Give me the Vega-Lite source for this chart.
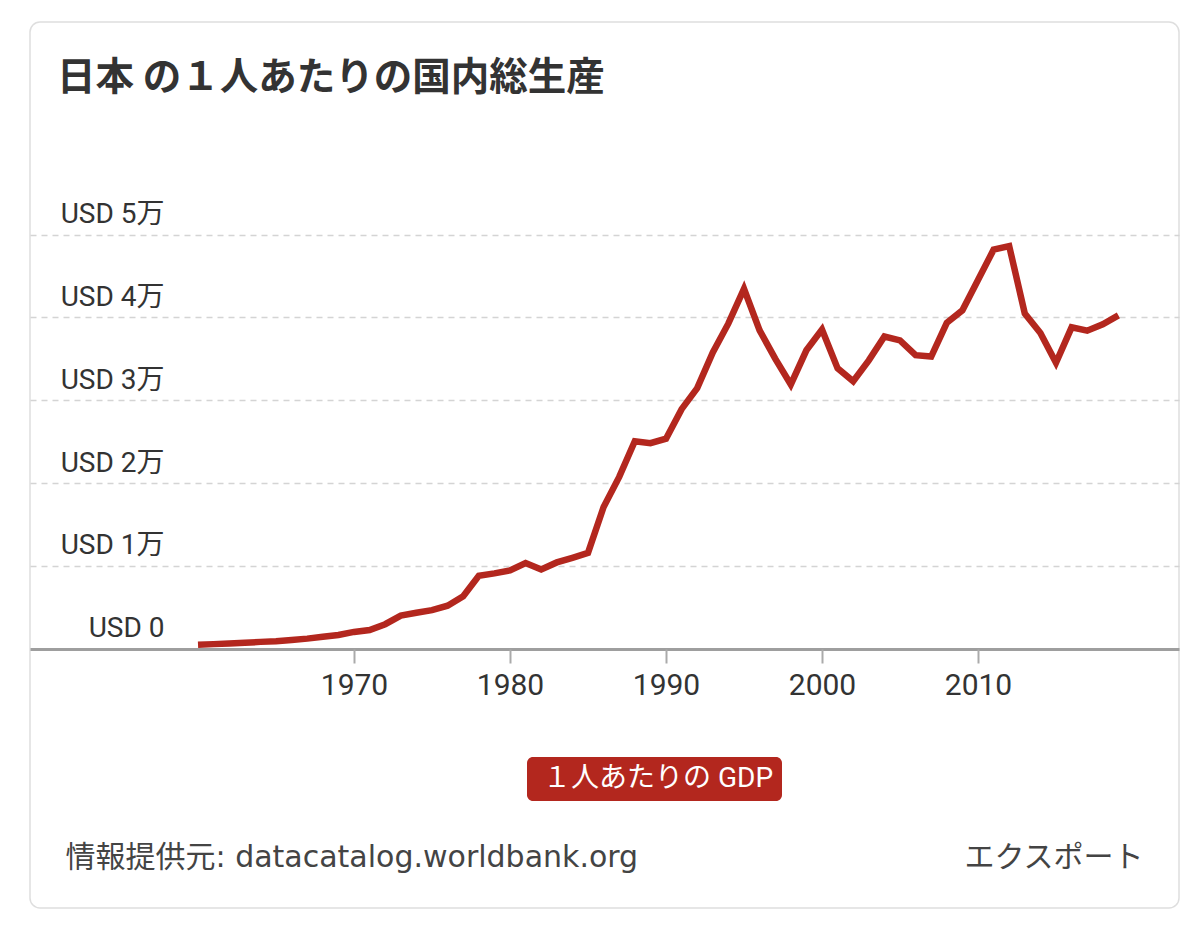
{
  "$schema": "https://vega.github.io/schema/vega-lite/v6.json",
  "width": 1149,
  "height": 886,
  "autosize": {"type": "none"},
  "padding": {"left": 30, "top": 22, "right": 21, "bottom": 36},
  "background": "white",
  "config": {
    "view": {"stroke": "#dedede", "strokeWidth": 1.5, "cornerRadius": 10, "fill": "white"}
  },
  "title": {
    "text": "日本 の１人あたりの国内総生産",
    "font": "Noto Sans CJK JP",
    "fontSize": 38.5,
    "fontWeight": "bold",
    "color": "#333333",
    "anchor": "start",
    "frame": "group",
    "dx": 27,
    "offset": -76
  },
  "data": {
    "values": [
      {"year": 1960, "gdp": 479},
      {"year": 1961, "gdp": 564},
      {"year": 1962, "gdp": 634},
      {"year": 1963, "gdp": 718},
      {"year": 1964, "gdp": 835},
      {"year": 1965, "gdp": 919},
      {"year": 1966, "gdp": 1059},
      {"year": 1967, "gdp": 1229},
      {"year": 1968, "gdp": 1451},
      {"year": 1969, "gdp": 1669},
      {"year": 1970, "gdp": 2038},
      {"year": 1971, "gdp": 2272},
      {"year": 1972, "gdp": 2967},
      {"year": 1973, "gdp": 3997},
      {"year": 1974, "gdp": 4354},
      {"year": 1975, "gdp": 4659},
      {"year": 1976, "gdp": 5197},
      {"year": 1977, "gdp": 6335},
      {"year": 1978, "gdp": 8821},
      {"year": 1979, "gdp": 9105},
      {"year": 1980, "gdp": 9463},
      {"year": 1981, "gdp": 10361},
      {"year": 1982, "gdp": 9578},
      {"year": 1983, "gdp": 10425},
      {"year": 1984, "gdp": 10984},
      {"year": 1985, "gdp": 11585},
      {"year": 1986, "gdp": 17112},
      {"year": 1987, "gdp": 20745},
      {"year": 1988, "gdp": 25052},
      {"year": 1989, "gdp": 24813},
      {"year": 1990, "gdp": 25359},
      {"year": 1991, "gdp": 28925},
      {"year": 1992, "gdp": 31465},
      {"year": 1993, "gdp": 35766},
      {"year": 1994, "gdp": 39269},
      {"year": 1995, "gdp": 43440},
      {"year": 1996, "gdp": 38437},
      {"year": 1997, "gdp": 35022},
      {"year": 1998, "gdp": 31903},
      {"year": 1999, "gdp": 36027},
      {"year": 2000, "gdp": 38532},
      {"year": 2001, "gdp": 33846},
      {"year": 2002, "gdp": 32289},
      {"year": 2003, "gdp": 34808},
      {"year": 2004, "gdp": 37689},
      {"year": 2005, "gdp": 37218},
      {"year": 2006, "gdp": 35434},
      {"year": 2007, "gdp": 35275},
      {"year": 2008, "gdp": 39339},
      {"year": 2009, "gdp": 40855},
      {"year": 2010, "gdp": 44508},
      {"year": 2011, "gdp": 48168},
      {"year": 2012, "gdp": 48603},
      {"year": 2013, "gdp": 40454},
      {"year": 2014, "gdp": 38109},
      {"year": 2015, "gdp": 34524},
      {"year": 2016, "gdp": 38794},
      {"year": 2017, "gdp": 38387},
      {"year": 2018, "gdp": 39159},
      {"year": 2019, "gdp": 40247}
    ]
  },
  "mark": {"type": "line", "strokeWidth": 6.5, "clip": false},
  "encoding": {
    "x": {
      "field": "year",
      "type": "quantitative",
      "scale": {"domain": [1949.23, 2022.885], "nice": false, "zero": false},
      "axis": {
        "orient": "bottom",
        "offset": -259,
        "values": [1970, 1980, 1990, 2000, 2010],
        "format": "d",
        "domain": false,
        "grid": false,
        "ticks": true,
        "tickSize": 14,
        "tickColor": "#aaaaaa",
        "tickWidth": 2,
        "labelFont": "Roboto",
        "labelFontSize": 30,
        "labelColor": "#333333",
        "labelPadding": 7,
        "labelFlush": false,
        "labelOverlap": false,
        "title": "情報提供元: datacatalog.worldbank.org",
        "titleFont": "DejaVu Sans, Noto Sans CJK JP",
        "titleFontSize": 30,
        "titleFontWeight": "normal",
        "titleColor": "#444444",
        "titleAnchor": "start",
        "titleAlign": "left",
        "titleBaseline": "middle",
        "titleX": 35,
        "titleY": 208
      }
    },
    "y": {
      "field": "gdp",
      "type": "quantitative",
      "scale": {"domain": [-31282, 75646], "nice": false, "zero": false},
      "axis": {
        "orient": "left",
        "values": [0, 10000, 20000, 30000, 40000, 50000],
        "labelExpr": "datum.value == 0 ? 'USD 0' : 'USD ' + (datum.value / 10000) + '万'",
        "domain": false,
        "ticks": false,
        "tickSize": 0,
        "grid": true,
        "gridColor": {"condition": {"test": "datum.value === 0", "value": "#9e9e9e"}, "value": "#d4d4d4"},
        "gridWidth": {"condition": {"test": "datum.value === 0", "value": 3}, "value": 1.5},
        "gridDash": {"condition": {"test": "datum.value === 0", "value": [1, 0]}, "value": [6, 5]},
        "labelFont": "Roboto, Noto Sans CJK JP",
        "labelFontSize": 28,
        "labelColor": "#333333",
        "labelAlign": "right",
        "labelBaseline": "alphabetic",
        "labelPadding": -134,
        "labelOffset": -12,
        "labelOverlap": false,
        "labelFlush": false,
        "title": "エクスポート",
        "titleFont": "Noto Sans CJK JP",
        "titleFontSize": 30,
        "titleFontWeight": "normal",
        "titleColor": "#444444",
        "titleAngle": 0,
        "titleAlign": "right",
        "titleBaseline": "middle",
        "titleX": 1113,
        "titleY": 835
      }
    },
    "color": {
      "datum": "１人あたりの GDP",
      "type": "nominal",
      "scale": {"range": ["#b3271e"]},
      "legend": {
        "title": null,
        "orient": "none",
        "legendX": 497,
        "legendY": 735,
        "fillColor": "#b3271e",
        "cornerRadius": 6,
        "padding": 8,
        "labelColor": "white",
        "labelFont": "Roboto, Noto Sans CJK JP",
        "labelFontSize": 28,
        "labelOffset": -20,
        "labelLimit": 400,
        "symbolType": "circle",
        "symbolSize": 0,
        "symbolOpacity": 0,
        "symbolStrokeWidth": 0
      }
    }
  }
}
